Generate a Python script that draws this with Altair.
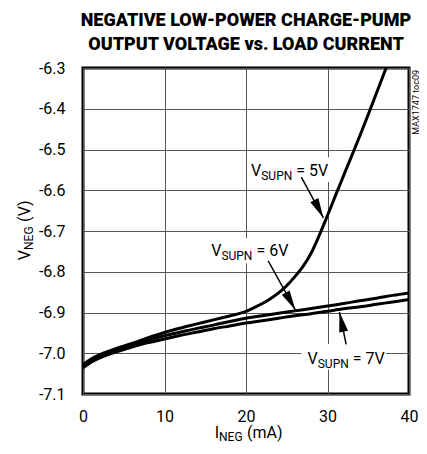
import altair as alt
import pandas as pd

FONT = "Roboto"

# ---- data ----
x_5v = [0, 1, 2, 3, 4, 6, 8, 10, 12, 14, 16, 18, 19, 20, 21, 22, 23, 24, 25, 26, 27, 28, 29, 30, 31, 32, 33, 34, 35, 36, 37, 38]
v_5v = [-7.028, -7.014, -7.004, -6.996, -6.989, -6.976, -6.962, -6.949, -6.938, -6.928, -6.918, -6.9085, -6.9035,
        -6.897, -6.888, -6.878, -6.866, -6.852, -6.834, -6.812, -6.787, -6.754, -6.710, -6.662, -6.612, -6.563,
        -6.514, -6.465, -6.414, -6.362, -6.310, -6.257]
x_67 = [0, 1, 2, 3, 4, 6, 8, 10, 12, 14, 16, 18, 20, 22, 24, 26, 28, 30, 32, 34, 36, 38, 40]
v_6v = [-7.032, -7.018, -7.008, -7.000, -6.993, -6.980, -6.968, -6.957, -6.948, -6.939, -6.931, -6.922, -6.914,
        -6.908, -6.902, -6.896, -6.890, -6.884, -6.878, -6.871, -6.865, -6.858, -6.852]
v_7v = [-7.036, -7.022, -7.012, -7.004, -6.997, -6.985, -6.974, -6.965, -6.956, -6.948, -6.940, -6.933, -6.926,
        -6.920, -6.914, -6.908, -6.903, -6.897, -6.891, -6.886, -6.880, -6.874, -6.868]

x_ticks = [0, 10, 20, 30, 40]
y_ticks = [-7.1, -7.0, -6.9, -6.8, -6.7, -6.6, -6.5, -6.4, -6.3]

# annotations (data coordinates)
ann_rest = ["= 5V", "= 6V", "= 7V"]
ann_x = [21.87, 16.98, 28.8]
ann_y = [-6.564, -6.761, -7.027]
box_x1 = [20.2, 15.3, 26.8]
box_x2 = [30.2, 25.3, 37.2]
box_y1 = [-6.519, -6.718, -6.977]
box_y2 = [-6.580, -6.779, -7.040]
arr_x1 = [26.79, 22.72, 32.29]
arr_y1 = [-6.568, -6.773, -6.978]
arr_x2 = [29.5, 26.06, 31.47]
arr_y2 = [-6.668, -6.894, -6.899]
arr_ang = [153, 151, 348]

title_lines = ["NEGATIVE LOW-POWER CHARGE-PUMP", "OUTPUT VOLTAGE vs. LOAD CURRENT"]

# ---- tables ----
curves = pd.concat([
    pd.DataFrame({"mA": x_5v, "V": v_5v, "s": "5V"}),
    pd.DataFrame({"mA": x_67, "V": v_6v, "s": "6V"}),
    pd.DataFrame({"mA": x_67, "V": v_7v, "s": "7V"}),
])
ann = pd.DataFrame({"rest": ann_rest, "lx": ann_x, "ly": ann_y,
                    "bx1": box_x1, "bx2": box_x2, "by1": box_y1, "by2": box_y2,
                    "ax1": arr_x1, "ay1": arr_y1, "ax2": arr_x2, "ay2": arr_y2, "ang": arr_ang})

xs = alt.Scale(domain=[0, 40], nice=False, zero=False)
ys = alt.Scale(domain=[-7.1, -6.3], nice=False, zero=False)

axis_common = dict(grid=True, gridColor="#555", gridWidth=1, domain=False, ticks=False,
                   labelFont=FONT, labelFontSize=16, labelColor="black",
                   labelFlush=False, labelOverlap=False, title=None)
xax = alt.Axis(values=x_ticks, labelPadding=14, **axis_common)
yax = alt.Axis(values=y_ticks, labelPadding=18,
               labelExpr="replace(format(datum.value, '.1f'), '\u2212', '-')", **axis_common)


def X(f):
    return alt.X(f, scale=xs, axis=xax)


def Y(f):
    return alt.Y(f, scale=ys, axis=yax)


lines = alt.Chart(curves).mark_line(color="black", strokeWidth=3, interpolate="monotone", clip=True).encode(
    x=X("mA:Q"), y=Y("V:Q"), detail="s:N")

ab = alt.Chart(ann)
boxes = ab.mark_rect(color="white").encode(x=X("bx1:Q"), x2="bx2:Q", y=Y("by1:Q"), y2="by2:Q")
shafts = ab.mark_rule(color="black", strokeWidth=1.5).encode(x=X("ax1:Q"), x2="ax2:Q", y=Y("ay1:Q"), y2="ay2:Q")
heads = ab.mark_point(shape="M0,0L-0.45,2L0.45,2Z", filled=True, size=400, color="black", opacity=1,
                      strokeWidth=0).encode(x=X("ax2:Q"), y=Y("ay2:Q"), angle=alt.Angle("ang:Q", scale=None))
txt_v = ab.mark_text(align="right", baseline="alphabetic", font=FONT, fontSize=16, color="black").encode(
    x=X("lx:Q"), y=Y("ly:Q"), text=alt.value("V"))
txt_sub = ab.mark_text(align="left", baseline="alphabetic", font=FONT, fontSize=12, dy=4, color="black").encode(
    x=X("lx:Q"), y=Y("ly:Q"), text=alt.value("SUPN"))
txt_rest = ab.mark_text(align="left", baseline="alphabetic", font=FONT, fontSize=16, dx=35, color="black").encode(
    x=X("lx:Q"), y=Y("ly:Q"), text="rest:N")


def piece(t, **kw):
    return alt.Chart(pd.DataFrame({"t": [t]})).mark_text(font=FONT, color="black", **kw).encode(text="t:N")


# x axis title  I_NEG (mA)
xt = [piece("I", x=136, y=370, align="right", baseline="alphabetic", fontSize=16),
      piece("NEG", x=136, y=370, align="left", baseline="alphabetic", fontSize=12, dy=3),
      piece("(mA)", x=136, y=370, align="left", baseline="alphabetic", fontSize=16, dx=28)]
# y axis title  V_NEG (V)  (rotated)
yt = [piece("V", x=-53, y=182, align="right", baseline="alphabetic", fontSize=16, angle=270),
      piece("NEG", x=-53, y=182, align="left", baseline="alphabetic", fontSize=12, dy=3, angle=270),
      piece("(V)", x=-53, y=182, align="left", baseline="alphabetic", fontSize=16, dx=28, angle=270)]
code = piece("MAX1747 toc09", x=332.5, y=2, align="right", baseline="middle", fontSize=9, angle=270)

chart = alt.layer(lines, boxes, shafts, heads, txt_v, txt_sub, txt_rest, *xt, *yt, code).properties(
    width=326, height=326,
    title=alt.TitleParams(title_lines, font=FONT, fontSize=18, fontWeight=900, lineHeight=24,
                          anchor="middle", offset=6, color="black"),
    autosize=alt.AutoSizeParams(type="none"),
    padding={"left": 75, "top": 60, "right": 10, "bottom": 50},
).configure_view(stroke="black", strokeWidth=3)

chart.save("out.html", embed_options={"renderer": "svg", "actions": False})
